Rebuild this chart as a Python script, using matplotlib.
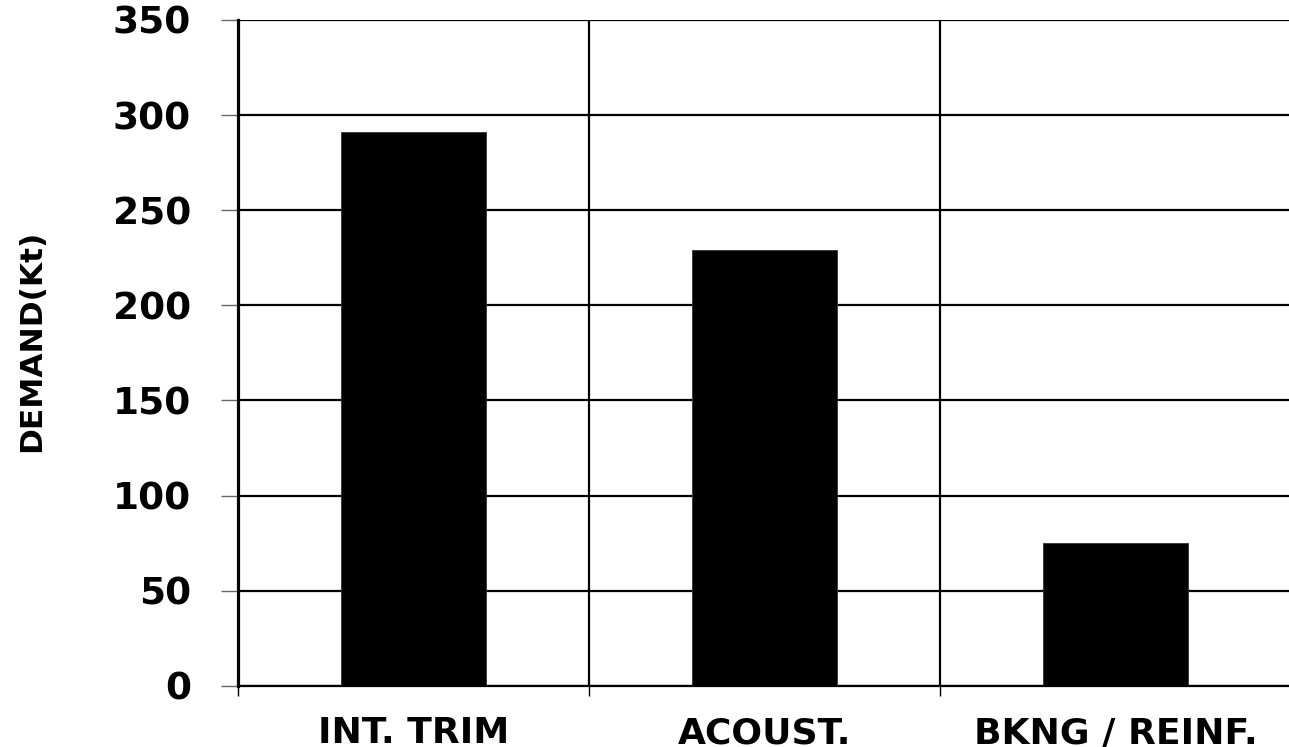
import matplotlib
matplotlib.use("Agg")
import matplotlib.pyplot as plt
from matplotlib.ticker import FixedLocator

categories = ["INT. TRIM", "ACOUST.", "BKNG / REINF."]
demand = [291, 229, 75]
y_ticks = [0, 50, 100, 150, 200, 250, 300, 350]
y_label = "DEMAND(Kt)"

plt.rcParams['font.family'] = ['DejaVu Sans']

fig = plt.figure(figsize=(12.89, 7.47), dpi=100)
ax = fig.add_axes([238/1289, 1-685.7/747, 1053/1289, 665.7/747])

x = list(range(len(categories)))
ax.bar(x, demand, width=0.413, color='black', edgecolor='#333333', linewidth=0.6, zorder=3)

ax.set_xlim(-0.5, len(categories) - 0.5)
ax.set_ylim(0, 350)
ax.set_yticks(y_ticks)
ax.set_yticklabels([str(v) for v in y_ticks], fontsize=27, fontweight='bold')
ax.set_xticks(x)
ax.set_xticklabels(categories, fontsize=26, fontweight='bold')
ax.xaxis.set_minor_locator(FixedLocator([i - 0.5 for i in range(len(categories))]))

ax.tick_params(axis='x', which='major', length=0, pad=22)
ax.tick_params(axis='x', which='minor', length=7, width=1, color='black', direction='out')
ax.tick_params(axis='y', which='major', length=12, width=1, color='#666666', pad=22, direction='out')

ax.yaxis.grid(True, color='black', linewidth=1.6, zorder=1)
ax.xaxis.grid(True, which='minor', color='black', linewidth=1.6, zorder=1)
ax.set_axisbelow(True)

for s in ['top', 'right']:
    ax.spines[s].set_visible(False)
ax.spines['left'].set_linewidth(2.3)
ax.spines['bottom'].set_linewidth(1.6)

ax.set_ylabel(y_label, fontsize=22.5, fontweight='bold', va='center')
ax.yaxis.set_label_coords(-0.196, 0.518)

fig.savefig("out.png", dpi=100)
